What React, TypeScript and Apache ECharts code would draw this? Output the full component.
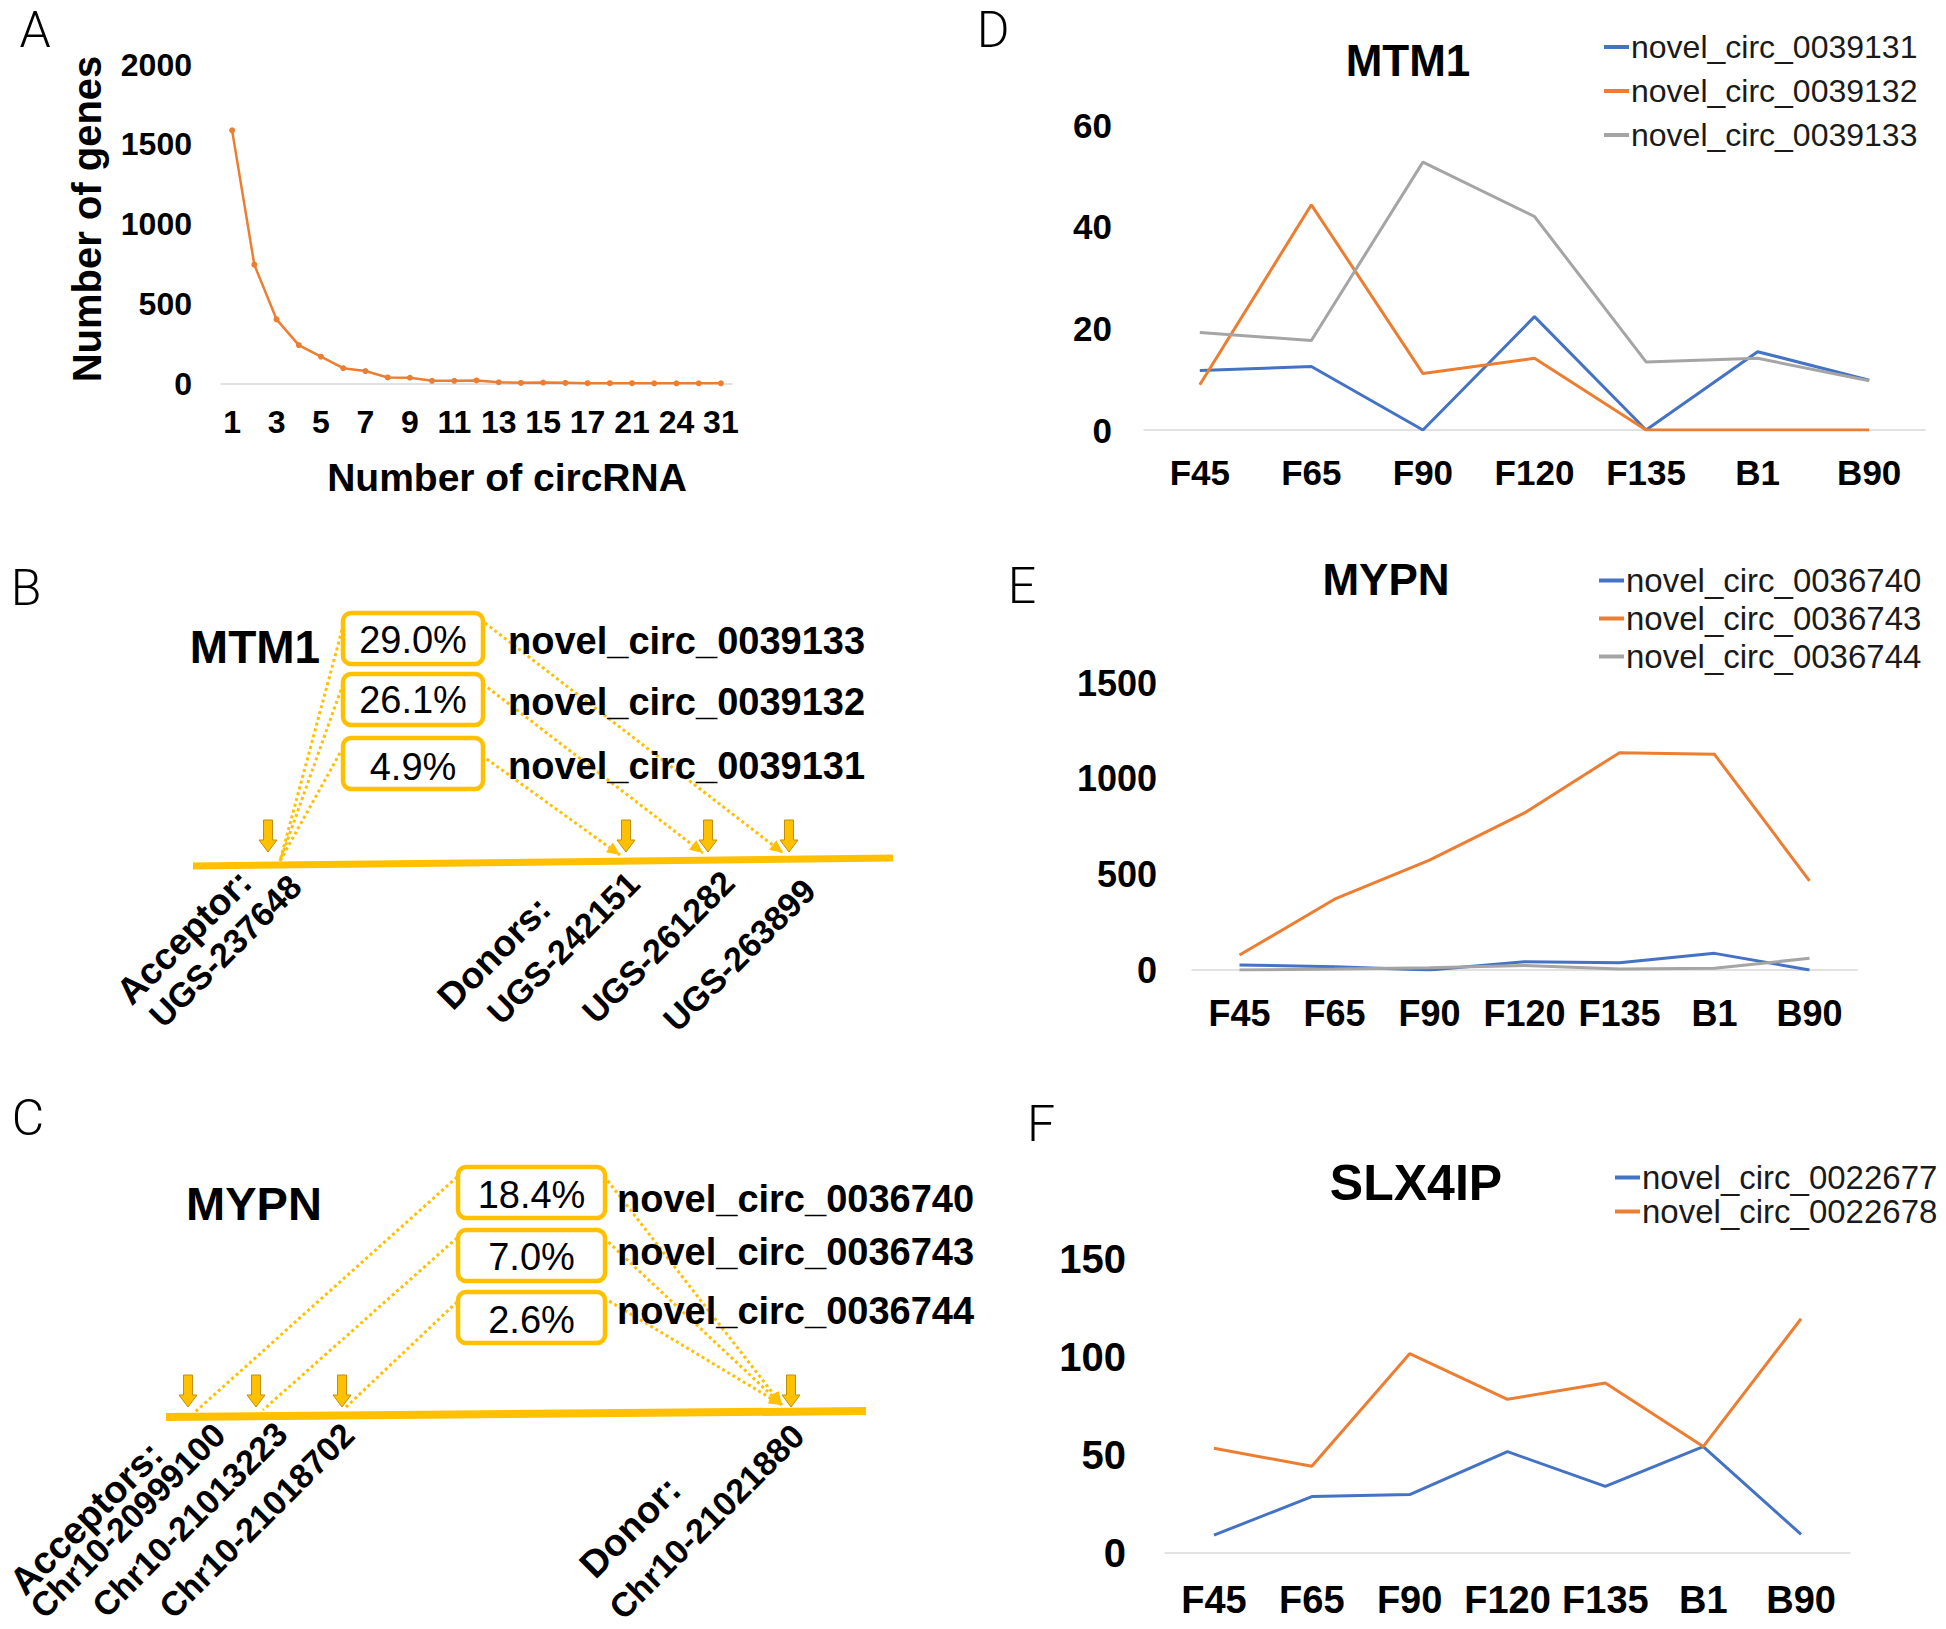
import React, { useEffect, useRef } from 'react';
import * as echarts from 'echarts';

const FONT = "'Liberation Sans', Arial, Helvetica, sans-serif";
const GOLD = '#FFC000';
const BLUE = '#4472C4';
const ORANGE = '#ED7D31';
const GRAY = '#A5A5A5';

// ---------- Panel A data ----------
const circCountCats = ['1', '2', '3', '4', '5', '6', '7', '8', '9', '10', '11', '12', '13', '14', '15', '16', '17', '19', '21', '22', '24', '27', '31'];
const geneCounts = [1587, 745, 402, 241, 168, 96, 78, 38, 36, 17, 17, 19, 8, 4, 6, 4, 2, 2, 2, 1, 1, 1, 1];

// ---------- Panels D/E/F data ----------
const timePoints = ['F45', 'F65', 'F90', 'F120', 'F135', 'B1', 'B90'];

const mtm1Names = ['novel_circ_0039131', 'novel_circ_0039132', 'novel_circ_0039133'];
const mtm1_0039131 = [11.7, 12.5, 0, 22.3, 0, 15.4, 9.8];
const mtm1_0039132 = [8.9, 44.3, 11.1, 14.1, 0, 0, 0];
const mtm1_0039133 = [19.2, 17.6, 52.7, 42.0, 13.4, 14.1, 9.7];

const mypnNames = ['novel_circ_0036740', 'novel_circ_0036743', 'novel_circ_0036744'];
const mypn_0036740 = [26, 17, 0, 43, 38, 87, 0];
const mypn_0036743 = [78, 370, 574, 821, 1136, 1127, 466];
const mypn_0036744 = [0, 5, 12, 24, 5, 9, 61];

const slx4ipNames = ['novel_circ_0022677', 'novel_circ_0022678'];
const slx4ip_0022677 = [9.1, 28.8, 29.8, 51.7, 34, 54.3, 9.5];
const slx4ip_0022678 = [53.4, 44.3, 101.7, 78.4, 86.7, 54.3, 119.5];

// ---------- Panels B/C text ----------
const mtm1Pcts = ['29.0%', '26.1%', '4.9%'];
const mtm1Circs = ['novel_circ_0039133', 'novel_circ_0039132', 'novel_circ_0039131'];
const mtm1Sites = ['Acceptor:', 'UGS-237648', 'Donors:', 'UGS-242151', 'UGS-261282', 'UGS-263899'];

const mypnPcts = ['18.4%', '7.0%', '2.6%'];
const mypnCircs = ['novel_circ_0036740', 'novel_circ_0036743', 'novel_circ_0036744'];
const mypnSites = ['Acceptors:', 'Chr10-20999100', 'Chr10-21013223', 'Chr10-21018702', 'Donor:', 'Chr10-21021880'];

// ---------- helpers ----------
const txt = (text: string, x: number, y: number, size: number, weight: string, align = 'center', rotation = 0, color = '#000', family = FONT) => ({
  type: 'text',
  x,
  y,
  rotation,
  z: 10,
  style: {
    text,
    fill: color,
    font: `${weight} ${size}px ${family}`,
    align,
    verticalAlign: 'middle',
  },
});

const dotted = (x1: number, y1: number, x2: number, y2: number) => ({
  type: 'line',
  z: 2,
  shape: { x1, y1, x2, y2 },
  style: { stroke: GOLD, lineWidth: 3, lineDash: [3, 3] },
});

const arrowHead = (x1: number, y1: number, x2: number, y2: number) => {
  const dx = x2 - x1;
  const dy = y2 - y1;
  const len = Math.sqrt(dx * dx + dy * dy);
  const ux = dx / len;
  const uy = dy / len;
  const bx = x2 - ux * 13;
  const by = y2 - uy * 13;
  const nx = -uy;
  const ny = ux;
  return {
    type: 'polygon',
    z: 3,
    shape: { points: [[x2, y2], [bx + nx * 6, by + ny * 6], [bx - nx * 6, by - ny * 6]] },
    style: { fill: GOLD },
  };
};

const downArrow = (cx: number, top: number) => ({
  type: 'polygon',
  z: 4,
  shape: {
    points: [
      [cx - 4.5, top], [cx + 4.5, top], [cx + 4.5, top + 20], [cx + 9, top + 20],
      [cx, top + 32], [cx - 9, top + 20], [cx - 4.5, top + 20],
    ],
  },
  style: { fill: GOLD, stroke: '#BF9000', lineWidth: 1 },
});

const box = (x: number, y: number, w: number, h: number) => ({
  type: 'rect',
  z: 5,
  shape: { x, y, width: w, height: h, r: 8 },
  style: { fill: '#fff', stroke: GOLD, lineWidth: 4.5 },
});

const mainLine = (x1: number, y1: number, x2: number, y2: number, w: number) => ({
  type: 'line',
  z: 1,
  shape: { x1, y1, x2, y2 },
  style: { stroke: GOLD, lineWidth: w },
});

const catAxis = (gridIndex: number, data: string[], fontSize: number, margin: number, interval: number) => ({
  type: 'category',
  gridIndex,
  data,
  boundaryGap: true,
  axisLine: { show: true, lineStyle: { color: '#D9D9D9', width: 1.5 } },
  axisTick: { show: false },
  axisLabel: { interval, fontSize, fontWeight: 'bold', fontFamily: FONT, color: '#000', margin },
  splitLine: { show: false },
});

const valAxis = (gridIndex: number, max: number, interval: number, fontSize: number, margin: number) => ({
  type: 'value',
  gridIndex,
  min: 0,
  max,
  interval,
  axisLine: { show: false },
  axisTick: { show: false },
  splitLine: { show: false },
  axisLabel: {
    fontSize,
    fontWeight: 'bold',
    fontFamily: FONT,
    color: '#000',
    margin,
    formatter: (v: number) => String(v),
  },
});

const lineSeries = (name: string, data: number[], idx: number, color: string) => ({
  type: 'line',
  name,
  data,
  xAxisIndex: idx,
  yAxisIndex: idx,
  symbol: 'none',
  lineStyle: { width: 3, color },
  itemStyle: { color },
});

const legend = (data: string[], left: number, top: number, size: number, gap: number) => ({
  data,
  orient: 'vertical',
  left,
  top,
  padding: 0,
  icon: 'rect',
  itemWidth: 25,
  itemHeight: 4,
  itemGap: gap,
  selectedMode: false,
  textStyle: { fontFamily: FONT, fontSize: size, lineHeight: size, color: '#1a1a1a', padding: [0, 0, 0, -3] },
});

export default function App() {
  const ref = useRef<HTMLDivElement>(null);

  useEffect(() => {
    if (!ref.current) return;
    const chart = echarts.init(ref.current, undefined, { renderer: 'svg' });

    const D2R = Math.PI / 4;

    // Panel B geometry
    const bBoxes = [[343, 613], [343, 674], [343, 738]];
    const bBoxW = 140;
    const bBoxH = 51;
    const bTextY = [640, 700, 767];
    const bNameY = [641, 702, 766];
    const bAcceptor = [280, 861];
    const bDonors = [[783, 853], [703, 853], [620, 855]];
    const bLeftStart = [[342, 630], [343, 684], [340, 753]];
    const bRightStart = [[485, 623], [483, 684], [477, 752]];
    const bArrows = [268, 626, 708, 789];
    const bLabelPos = [[123, 998], [155, 1021], [444, 1003], [493, 1018], [588, 1017], [669, 1025]];
    const bLabelSize = [37, 34, 37, 34, 34, 34];

    // Panel C geometry
    const cBoxes = [[458, 1167], [458, 1230], [458, 1292]];
    const cBoxW = 147;
    const cBoxH = 51;
    const cTextY = [1195, 1257, 1320];
    const cNameY = [1199, 1252, 1311];
    const cAcceptors = [[195, 1412], [263, 1410], [345, 1408]];
    const cDonor = [782, 1405];
    const cLeftStart = [[457, 1177], [457, 1238], [457, 1302]];
    const cRightStart = [[604, 1176], [604, 1238], [604, 1298]];
    const cArrows = [188, 256, 342, 791];
    const cLabelPos = [[16, 1588], [36, 1612], [98, 1611], [165, 1612], [586, 1571], [615, 1613]];
    const cLabelSize = [38, 34, 34, 34, 38, 34];

    const graphics: any[] = [];

    // panel letters
    const LETTER_FONT = "Roboto, 'Liberation Sans', Arial, sans-serif";
    [['A', 35, 30], ['B', 26, 588], ['C', 28, 1118], ['D', 993, 30], ['E', 1022, 586], ['F', 1041, 1124]].forEach(
      ([t, x, y]) => graphics.push(txt(t as string, x as number, y as number, 50, '300', 'center', 0, '#000', LETTER_FONT))
    );

    // axis titles for A
    graphics.push(txt('Number of circRNA', 507, 477, 39, 'bold'));
    graphics.push(txt('Number of genes', 87, 219, 40, 'bold', 'center', Math.PI / 2));

    // chart titles
    graphics.push(txt('MTM1', 1408, 60, 44, 'bold'));
    graphics.push(txt('MYPN', 1386, 579, 44, 'bold'));
    graphics.push(txt('SLX4IP', 1416, 1183, 50, 'bold'));

    // ---- Panel B ----
    graphics.push(mainLine(193, 866, 893, 858, 7));
    graphics.push(txt('MTM1', 255, 647, 46, 'bold'));
    bBoxes.forEach(([x, y], i) => {
      graphics.push(box(x, y, bBoxW, bBoxH));
      graphics.push(txt(mtm1Pcts[i], x + bBoxW / 2, bTextY[i], 38, 'normal'));
      graphics.push(txt(mtm1Circs[i], 508, bNameY[i], 38, 'bold', 'left'));
    });
    bLeftStart.forEach(([x, y]) => graphics.push(dotted(x, y, bAcceptor[0], bAcceptor[1])));
    bRightStart.forEach(([x, y], i) => {
      graphics.push(dotted(x, y, bDonors[i][0], bDonors[i][1]));
      graphics.push(arrowHead(x, y, bDonors[i][0], bDonors[i][1]));
    });
    bArrows.forEach((cx) => graphics.push(downArrow(cx, 820)));
    mtm1Sites.forEach((t, i) => graphics.push(txt(t, bLabelPos[i][0], bLabelPos[i][1], bLabelSize[i], 'bold', 'left', D2R)));

    // ---- Panel C ----
    graphics.push(mainLine(166, 1417, 866, 1411, 8));
    graphics.push(txt('MYPN', 254, 1203, 47, 'bold'));
    cBoxes.forEach(([x, y], i) => {
      graphics.push(box(x, y, cBoxW, cBoxH));
      graphics.push(txt(mypnPcts[i], x + cBoxW / 2, cTextY[i], 38, 'normal'));
      graphics.push(txt(mypnCircs[i], 617, cNameY[i], 38, 'bold', 'left'));
    });
    cLeftStart.forEach(([x, y], i) => graphics.push(dotted(x, y, cAcceptors[i][0], cAcceptors[i][1])));
    cRightStart.forEach(([x, y]) => {
      graphics.push(dotted(x, y, cDonor[0], cDonor[1]));
      graphics.push(arrowHead(x, y, cDonor[0], cDonor[1]));
    });
    cArrows.forEach((cx) => graphics.push(downArrow(cx, 1375)));
    mypnSites.forEach((t, i) => graphics.push(txt(t, cLabelPos[i][0], cLabelPos[i][1], cLabelSize[i], 'bold', 'left', D2R)));

    const option: any = {
      animation: false,
      backgroundColor: '#fff',
      textStyle: { fontFamily: FONT },
      grid: [
        { left: 221, top: 64.5, width: 511, height: 319 },
        { left: 1144, top: 125, width: 781, height: 305 },
        { left: 1192, top: 683, width: 665, height: 287 },
        { left: 1165, top: 1259, width: 685, height: 294 },
      ],
      xAxis: [
        catAxis(0, circCountCats, 32, 22, 1),
        catAxis(1, timePoints, 35, 25, 0),
        catAxis(2, timePoints, 36, 25, 0),
        catAxis(3, timePoints, 38, 28, 0),
      ],
      yAxis: [
        valAxis(0, 2000, 500, 32, 29),
        valAxis(1, 60, 20, 35, 32),
        valAxis(2, 1500, 500, 36, 35),
        valAxis(3, 150, 50, 40, 39),
      ],
      legend: [
        legend(mtm1Names, 1604, 31, 32, 12),
        legend(mypnNames, 1599, 564, 33, 5),
        legend(slx4ipNames, 1615, 1161, 33, 1),
      ],
      series: [
        {
          type: 'line',
          name: 'genes',
          data: geneCounts,
          xAxisIndex: 0,
          yAxisIndex: 0,
          symbol: 'circle',
          symbolSize: 6,
          lineStyle: { width: 2.5, color: ORANGE },
          itemStyle: { color: ORANGE },
        },
        lineSeries(mtm1Names[0], mtm1_0039131, 1, BLUE),
        lineSeries(mtm1Names[1], mtm1_0039132, 1, ORANGE),
        lineSeries(mtm1Names[2], mtm1_0039133, 1, GRAY),
        lineSeries(mypnNames[0], mypn_0036740, 2, BLUE),
        lineSeries(mypnNames[1], mypn_0036743, 2, ORANGE),
        lineSeries(mypnNames[2], mypn_0036744, 2, GRAY),
        lineSeries(slx4ipNames[0], slx4ip_0022677, 3, BLUE),
        lineSeries(slx4ipNames[1], slx4ip_0022678, 3, ORANGE),
      ],
      graphic: graphics,
    };

    chart.setOption(option);
    return () => chart.dispose();
  }, []);

  return (
    <div
      ref={ref}
      style={{ position: 'absolute', left: 0, top: 0, width: 1946, height: 1629, background: '#fff' }}
    />
  );
}
